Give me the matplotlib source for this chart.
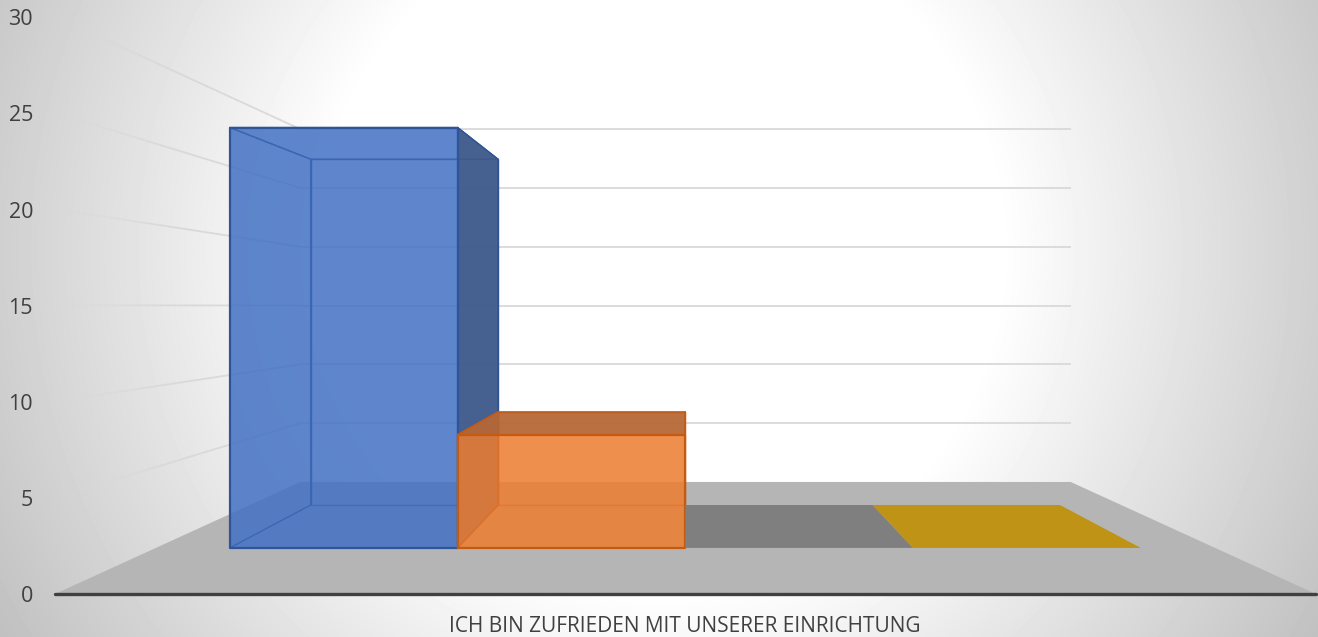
#!/usr/bin/env python3
"""3D-look column chart, perspective done by hand on a pixel-sized axes."""
import numpy as np
import matplotlib
matplotlib.use("Agg")
import matplotlib.pyplot as plt
from matplotlib.collections import LineCollection
from matplotlib.patches import Polygon

CATEGORY = "ICH BIN ZUFRIEDEN MIT UNSERER EINRICHTUNG"
SERIES_VALUES = [26, 7, 0, 0]
SERIES_COLORS = ["#4472C4", "#ED7D31", "#7F7F7F", "#BF9316"]
EDGE_COLORS = ["#2F5597", "#C55A11", "#7F7F7F", "#BF9316"]
SIDE_COLORS = ["#415B8A", "#B06537", "#7F7F7F", "#BF9316"]
TICKS = [0, 5, 10, 15, 20, 25, 30]

W, H = 1318, 637
VX, VY = 685.5, 306          # vanishing point
X0, X1 = 55, 1316            # front edge of floor
Y0, PX_PER_UNIT = 594, 19.25 # value axis on the front plane
S_WALL, S_FRONT, S_BACK = 0.611, 0.84, 0.691
BAR_X0, BAR_W = 0.0698, 0.215  # first bar start / bar width, share of floor width
GRID = "#D9D9D9"; TXT = "#404040"; FLOOR = "#B5B5B5"


def proj(fx, v, s):
    """fx = share of floor width, v = value, s = depth scale (1 front)."""
    x = X0 + fx * (X1 - X0)
    y = Y0 - v * PX_PER_UNIT
    return VX + s * (x - VX), VY + s * (y - VY)


def face(ax, pts, color, alpha, edge=None, lw=1.2, z=3):
    fc = matplotlib.colors.to_rgba(color, alpha)
    ax.add_patch(Polygon(pts, closed=True, facecolor=fc, edgecolor=edge or "none",
                         linewidth=lw if edge else 0, joinstyle="round", zorder=z))


plt.rcParams["font.family"] = ["Open Sans", "DejaVu Sans"]
fig = plt.figure(figsize=(W / 100, H / 100), dpi=100)
ax = fig.add_axes([0, 0, 1, 1])
ax.set_xlim(0, W); ax.set_ylim(H, 0); ax.axis("off")

# radial background
xx, yy = np.meshgrid(np.arange(W), np.arange(H))
dist = np.hypot(xx - 660, yy - 250)
bg = np.clip(255 - (dist - 340) / 405 * 60, 190, 255)
ax.imshow(bg, cmap="gray", vmin=0, vmax=255, extent=(0, W, H, 0), aspect="auto", zorder=0)

# back wall + fading side wall lines
for t in TICKS[1:]:
    a = proj(0, t, S_WALL); b = proj(1, t, S_WALL)
    ax.plot([a[0], b[0]], [a[1], b[1]], color=GRID, lw=1.3, zorder=1, solid_capstyle="butt")
    p0 = np.array(proj(0, t, 1.0)); p1 = np.array(a)
    fr = np.linspace(0, 1, 41)
    pts = p0 + np.outer(fr, p1 - p0)
    segs = np.stack([pts[:-1], pts[1:]], axis=1)
    alphas = np.clip(0.1 + fr[:-1] * 2, 0, 1)
    cols = [matplotlib.colors.to_rgba(GRID, al) for al in alphas]
    ax.add_collection(LineCollection(segs, colors=cols, linewidths=1.3, zorder=1))

# floor
face(ax, [proj(0, 0, 1), proj(1, 0, 1), proj(1, 0, S_WALL), proj(0, 0, S_WALL)], FLOOR, 1, z=2)

# bars, left to right
for i, v in enumerate(SERIES_VALUES):
    c, e, sc = SERIES_COLORS[i], EDGE_COLORS[i], SIDE_COLORS[i]
    l = BAR_X0 + i * BAR_W; r = l + BAR_W
    z = 3 + i
    fl, fr_ = proj(l, 0, S_FRONT), proj(r, 0, S_FRONT)
    bl, br = proj(l, 0, S_BACK), proj(r, 0, S_BACK)
    if v == 0:
        # nothing to extrude, only the footprint stays
        face(ax, [fl, fr_, br, bl], c, 1, z=z)
        continue
    ftl, ftr = proj(l, v, S_FRONT), proj(r, v, S_FRONT)
    btl, btr = proj(l, v, S_BACK), proj(r, v, S_BACK)
    a = 0.62
    face(ax, [bl, br, btr, btl], c, a, edge=e, lw=1.0, z=z)      # back
    face(ax, [fl, bl, br, fr_], c, a, z=z)                       # bottom
    face(ax, [fl, bl, btl, ftl], c, a, edge=e, lw=1.0, z=z)      # left
    if v < 15:  # top face only seen below the horizon
        face(ax, [ftl, ftr, btr, btl], sc, 0.85, edge=e, lw=1.0, z=z)
    else:
        face(ax, [ftl, ftr, btr, btl], c, a, edge=e, lw=1.0, z=z)
    face(ax, [fr_, br, btr, ftr], sc, 0.93, edge=e, lw=1.0, z=z) # right
    face(ax, [fl, fr_, ftr, ftl], c, a, edge=e, lw=1.6, z=z)     # front

# axis line and labels
ax.plot([X0, X1], [Y0, Y0], color=TXT, lw=2.4, zorder=10, solid_capstyle="round")
for t in TICKS:
    ax.text(33, proj(0, t, 1)[1] + 3, str(t), ha="right", va="center", fontsize=15.5, color=TXT)
ax.text(685, 626, CATEGORY, ha="center", va="center", fontsize=15, color=TXT)

fig.savefig("out.png", dpi=100)
plt.close(fig)
